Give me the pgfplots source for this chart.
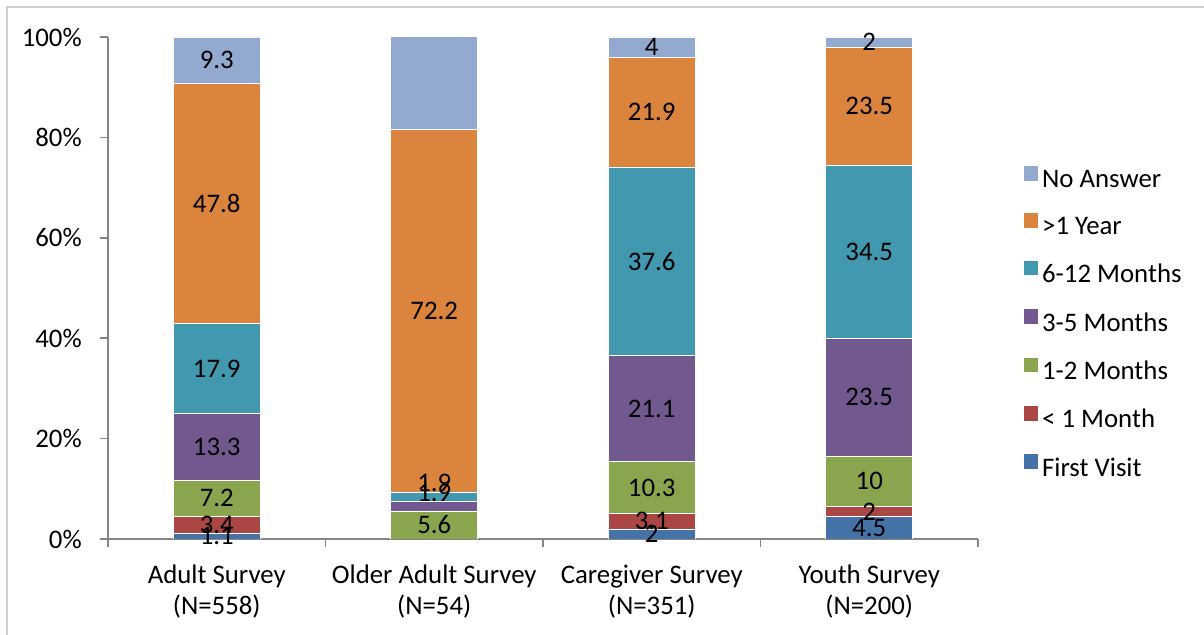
\documentclass[border=0pt]{standalone}
\usepackage{pgfplots}
\pgfplotsset{compat=1.18}
\usepackage{pgfplotstable}
\usepackage{fontspec}
\setmainfont{Carlito}

\definecolor{cFirst}{HTML}{4572A7}
\definecolor{cLess}{HTML}{AA4643}
\definecolor{cOneTwo}{HTML}{89A54E}
\definecolor{cThreeFive}{HTML}{71588F}
\definecolor{cSixTwelve}{HTML}{4198AF}
\definecolor{cYear}{HTML}{DB843D}
\definecolor{cNoAns}{HTML}{93A9CF}
\definecolor{axisgray}{HTML}{868686}
\definecolor{framegray}{HTML}{D0D0D0}

% x: 0 Adult, 1 Older Adult, 2 Caregiver, 3 Youth; v: percent; dy: label lift (in %)
\pgfplotstableread{
x v dy
0 1.1 0
1 0 0
2 2 0
3 4.5 0
}\firstvisit
\pgfplotstableread{
x v dy
0 3.4 0
1 0 0
2 3.1 0
3 2 0
}\lessmonth
\pgfplotstableread{
x v dy
0 7.2 0
1 5.6 0
2 10.3 0
3 10 0
}\onetwo
\pgfplotstableread{
x v dy
0 13.3 0
1 1.9 2.6
2 21.1 0
3 23.5 0
}\threefive
\pgfplotstableread{
x v dy
0 17.9 0
1 1.9 2.8
2 37.6 0
3 34.5 0
}\sixtwelve
\pgfplotstableread{
x v dy
0 47.8 0
1 72.2 0
2 21.9 0
3 23.5 0
}\overyear
\pgfplotstableread{
x v dy
0 9.3 0
1 18.5 0
2 4 0
3 2 0
}\noanswer

\begin{document}
\fontsize{13.4}{15.5}\selectfont
\begin{tikzpicture}
\path[use as bounding box] (0,0) rectangle (602pt,317.5pt);
\draw[framegray, line width=0.6pt] (3.5pt,0) -- (3.5pt,314pt) -- (602pt,314pt);
\begin{axis}[
  at={(54pt,48pt)}, anchor=south west,
  scale only axis, width=435pt, height=251pt,
  ybar stacked, bar width=0.4,
  xmin=-0.5, xmax=3.5, ymin=0, ymax=100,
  axis lines*=left,
  axis line style={axisgray, line width=0.8pt},
  xtick={0,1,2,3},
  xticklabels={{Adult Survey\\(N=558)},{Older Adult Survey\\(N=54)},{Caregiver Survey\\(N=351)},{Youth Survey\\(N=200)}},
  xticklabel style={align=center, yshift=-4.5pt},
  major x tick style={draw=none},
  minor xtick={-0.5,0.5,1.5,2.5,3.5},
  minor x tick style={axisgray, line width=0.8pt},
  ytick={0,20,40,60,80,100},
  yticklabels={0\%,20\%,40\%,60\%,80\%,100\%},
  yticklabel style={xshift=-4.5pt},
  y tick style={axisgray, line width=0.8pt},
  tick align=outside,
  major tick length=4pt, minor tick length=4pt,
  /pgf/number format/assume math mode=true,
  point meta=explicit,
  nodes near coords={\pgfmathfloatifflags{\pgfplotspointmeta}{0}{}{\pgfmathprintnumber{\pgfplotspointmeta}}},
  visualization depends on={\thisrow{dy} \as \dy},
  every node near coord/.append style={anchor=center, black, yshift={\dy*2.51pt}},
  legend style={at={(1.045,0.426)}, anchor=west, draw=none, fill=none, row sep=8.9pt},
  legend cell align=left,
  reverse legend,
  legend image code/.code={\path[#1,draw=none] (0pt,0pt) rectangle (7.3pt,7.3pt);},
  every axis plot/.append style={draw=white, line width=0.3pt},
]
\addplot[fill=cFirst] table[x=x, y=v, meta=v] {\firstvisit};
\addplot[fill=cLess] table[x=x, y=v, meta=v] {\lessmonth};
\addplot[fill=cOneTwo] table[x=x, y=v, meta=v] {\onetwo};
\addplot[fill=cThreeFive] table[x=x, y=v, meta=v] {\threefive};
\addplot[fill=cSixTwelve] table[x=x, y=v, meta=v] {\sixtwelve};
\addplot[fill=cYear] table[x=x, y=v, meta=v] {\overyear};
\addplot[fill=cNoAns] table[x=x, y=v, meta=v] {\noanswer};
\legend{First Visit,< 1 Month,1-2 Months,3-5 Months,6-12 Months,>1 Year,No Answer}
\end{axis}
\end{tikzpicture}
\end{document}
